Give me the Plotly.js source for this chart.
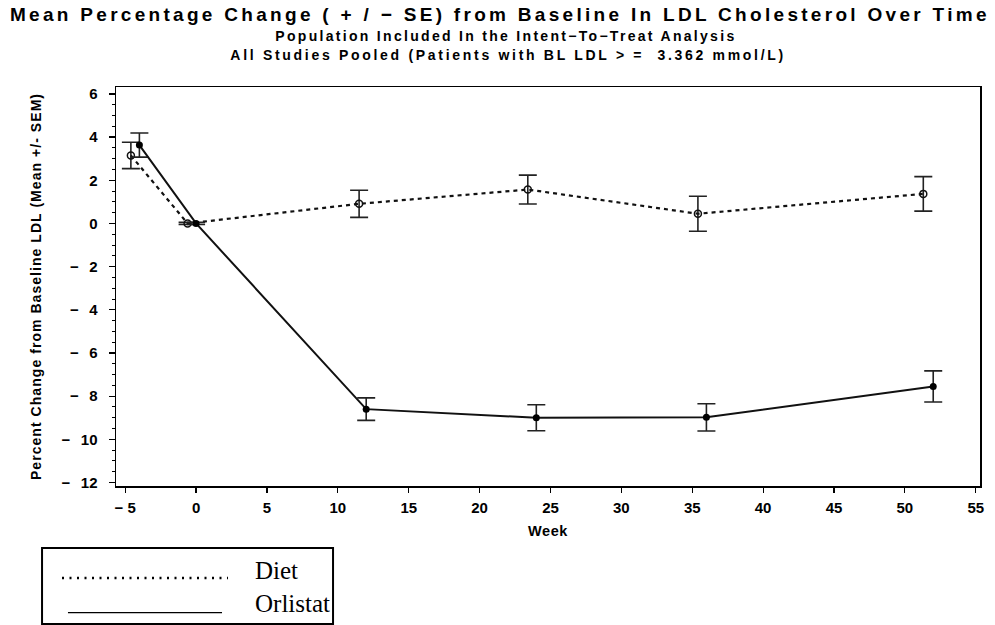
<!DOCTYPE html>
<html>
<head>
<meta charset="utf-8">
<script src="https://cdn.plot.ly/plotly-3.0.1.min.js"></script>
<style>
html,body{margin:0;padding:0;background:#fff;}
#chart{width:995px;height:625px;}
#chart g.annotation[data-index="0"] text{letter-spacing:3.3px;}
#chart g.annotation[data-index="1"] text{letter-spacing:2.3px;}
#chart g.annotation[data-index="2"] text{letter-spacing:2.7px;}
#chart .ytitle{letter-spacing:1.05px;}
#chart .xtitle{letter-spacing:0.6px;}
</style>
</head>
<body>
<div id="chart"></div>
<script>
// Data
const dietWeeks = [-4.6, -0.6, 11.5, 23.4, 35.4, 51.3];
const dietMean  = [3.15, 0.0, 0.91, 1.57, 0.45, 1.37];
const dietSE    = [0.61, 0.05, 0.63, 0.67, 0.81, 0.80];

const orlWeeks = [-4, 0, 12, 24, 36, 52];
const orlMean  = [3.63, 0.0, -8.6, -9.0, -8.98, -7.55];
const orlSE    = [0.56, 0.05, 0.52, 0.60, 0.63, 0.72];

const xTickVals = [-5, 0, 5, 10, 15, 20, 25, 30, 35, 40, 45, 50, 55];
const xTickText = ["\u2212 5", "0", "5", "10", "15", "20", "25", "30", "35", "40", "45", "50", "55"];
const yTickVals = [-12, -10, -8, -6, -4, -2, 0, 2, 4, 6];
const yTickText = ["\u2212\u2002\u200912", "\u2212\u2002\u200910", "\u2212\u2002\u20098", "\u2212\u2002\u20096", "\u2212\u2002\u20094", "\u2212\u2002\u20092", "0", "2", "4", "6"];

const titleLines = [
  "Mean Percentage Change ( + / \u2212 SE) from Baseline In LDL Cholesterol Over Time",
  "Population Included In the Intent\u2212To\u2212Treat Analysis",
  "All Studies Pooled (Patients with BL LDL > =  3.362 mmol/L)"
];
const legendNames = ["Diet", "Orlistat"];
const xTitle = "Week";
const yTitle = "Percent Change from Baseline LDL (Mean +/- SEM)";

const font = "Liberation Sans, Arial, sans-serif";
const serif = "Liberation Serif, Times New Roman, serif";

const traces = [
  {
    x: dietWeeks, y: dietMean, name: legendNames[0], type: "scatter", mode: "lines+markers",
    line: {color: "#111", width: 2.2, dash: "4px,4px"},
    marker: {symbol: "circle-open", size: 7, color: "#111", line: {width: 1.5, color: "#111"}},
    error_y: {type: "data", array: dietSE, visible: true, color: "#222", thickness: 1.6, width: 9},
    showlegend: false
  },
  {
    x: orlWeeks, y: orlMean, name: legendNames[1], type: "scatter", mode: "lines+markers",
    line: {color: "#111", width: 2},
    marker: {symbol: "circle", size: 7, color: "#000"},
    error_y: {type: "data", array: orlSE, visible: true, color: "#222", thickness: 1.6, width: 9},
    showlegend: false
  }
];

const layout = {
  width: 995, height: 625,
  margin: {l: 116, r: 15, t: 87, b: 139},
  paper_bgcolor: "#fff", plot_bgcolor: "#fff",
  font: {family: font, color: "#000"},
  showlegend: false,
  xaxis: {
    range: [-5.65, 55.3], tickmode: "array", tickvals: xTickVals, ticktext: xTickText,
    showline: true, linecolor: "#000", linewidth: 1.5, mirror: true,
    ticks: "outside", ticklen: 5, tickwidth: 1.2, tickcolor: "#000", ticklabelstandoff: 2,
    showgrid: false, zeroline: false,
    tickfont: {family: font, size: 15, color: "#000", weight: "bold"},
    title: {text: xTitle, font: {family: font, size: 14.5, color: "#000", weight: "bold"}, standoff: 11}
  },
  yaxis: {
    range: [-12.16, 6.32], tickmode: "array", tickvals: yTickVals, ticktext: yTickText,
    showline: true, linecolor: "#000", linewidth: 1.5, mirror: true,
    ticks: "outside", ticklen: 6, tickwidth: 1.2, tickcolor: "#000", ticklabelstandoff: 8,
    minor: {dtick: 0.5, ticks: "outside", ticklen: 3, tickcolor: "#000", tickwidth: 1},
    showgrid: false, zeroline: false,
    tickfont: {family: font, size: 15, color: "#000", weight: "bold"},
    title: {text: yTitle, font: {family: font, size: 14, color: "#000", weight: "bold"}, standoff: 16}
  },
  annotations: [
    {text: titleLines[0], xref: "paper", yref: "paper", x: 0.4444, y: 1.0, yshift: 73,
     showarrow: false, xanchor: "center", yanchor: "middle", font: {family: font, size: 19, color: "#000", weight: "bold"}},
    {text: titleLines[1], xref: "paper", yref: "paper", x: 0.4514, y: 1.0, yshift: 51,
     showarrow: false, xanchor: "center", yanchor: "middle", font: {family: font, size: 14, color: "#000", weight: "bold"}},
    {text: titleLines[2], xref: "paper", yref: "paper", x: 0.4537, y: 1.0, yshift: 32,
     showarrow: false, xanchor: "center", yanchor: "middle", font: {family: font, size: 14, color: "#000", weight: "bold"}},
    {text: legendNames[0], xref: "paper", yref: "paper", x: 0.1586, y: -0.2118,
     showarrow: false, xanchor: "left", yanchor: "middle", font: {family: serif, size: 25, color: "#000"}},
    {text: legendNames[1], xref: "paper", yref: "paper", x: 0.1586, y: -0.2945,
     showarrow: false, xanchor: "left", yanchor: "middle", font: {family: serif, size: 25, color: "#000"}}
  ],
  shapes: [
    {type: "rect", xref: "paper", yref: "paper", x0: -0.0856, x1: 0.2512, y0: -0.1554, y1: -0.3459,
     line: {color: "#000", width: 2}, fillcolor: "rgba(0,0,0,0)"},
    {type: "line", xref: "paper", yref: "paper", x0: -0.0625, x1: 0.1296, y0: -0.2306, y1: -0.2306,
     line: {color: "#000", width: 2.5, dash: "2px,5.5px"}},
    {type: "line", xref: "paper", yref: "paper", x0: -0.0556, x1: 0.1227, y0: -0.3175, y1: -0.3175,
     line: {color: "#000", width: 1.3}}
  ]
};

Plotly.newPlot("chart", traces, layout, {displayModeBar: false, staticPlot: true});
</script>
</body>
</html>
